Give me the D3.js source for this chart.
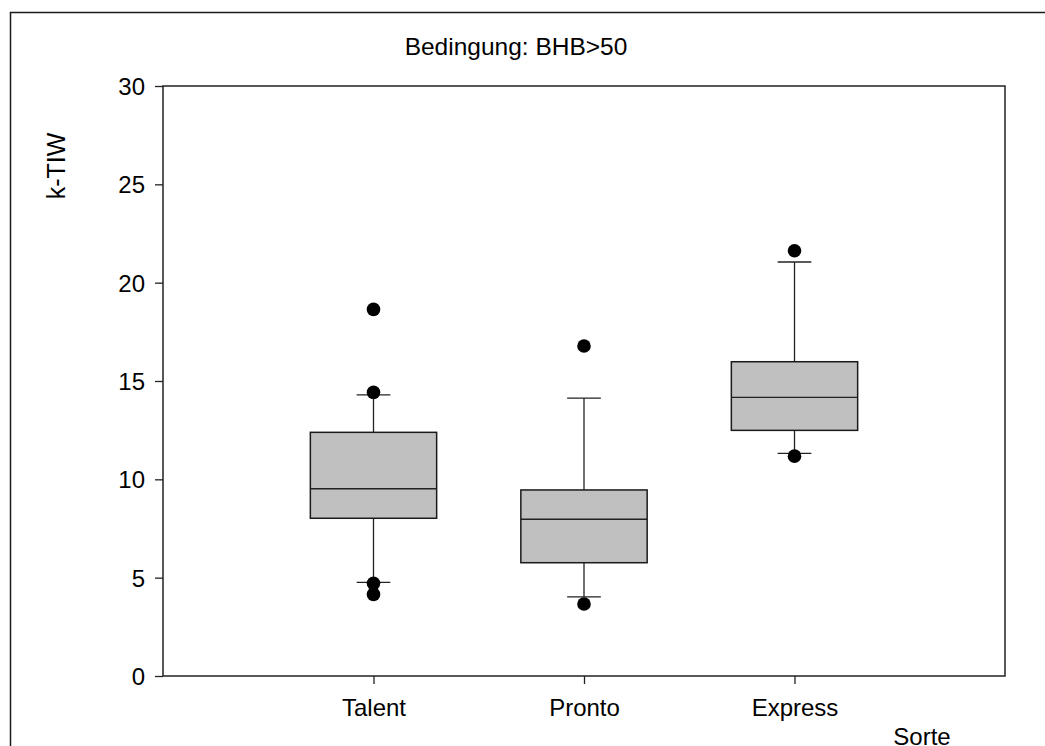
<!DOCTYPE html>
<html>
<head>
<meta charset="utf-8">
<script src="https://cdn.jsdelivr.net/npm/d3@7"></script>
<style>
  body { margin: 0; background: #fff; }
  svg text { font-family: "Liberation Sans", Arial, sans-serif; fill: #000; }
</style>
</head>
<body>
<div id="chart"></div>
<script>
// values
var categories = ["Talent", "Pronto", "Express"];
var q1 = [8.02, 5.76, 12.49];
var medians = [9.52, 7.97, 14.17];
var q3 = [12.39, 9.46, 15.98];
var whiskerLow = [4.76, 4.02, 11.32];
var whiskerHigh = [14.29, 14.13, 21.05];
var outliers = [[18.64, 14.42, 4.71, 4.15], [16.78, 3.66], [21.62, 11.18]];
var yTicks = [0, 5, 10, 15, 20, 25, 30];

var w = 1045, h = 746;
var marginLeft = 163, marginTop = 86, plotRight = 1005, plotBottom = 676;
var contentsWidth = plotRight - marginLeft, contentsHeight = plotBottom - marginTop;

var svg = d3.select("#chart")
  .append("svg")
  .attr("width", w)
  .attr("height", h);

// outer frame (only left and top visible)
svg.append("path")
  .attr("d", "M10.5," + h + "V12.5H" + w)
  .attr("fill", "none")
  .attr("stroke", "#1a1a1a")
  .attr("stroke-width", 1.5);

var chartG = svg.append("g")
  .attr("transform", "translate(" + marginLeft + "," + marginTop + ")");

var xScale = d3.scaleLinear().domain([0, 4]).range([0, contentsWidth]);
var yScale = d3.scaleLinear().domain([0, 30]).range([contentsHeight, 0]);

var boxHalf = 0.3, capHalf = 0.08;

// plot frame
chartG.append("rect")
  .attr("x", 0).attr("y", 0)
  .attr("width", contentsWidth).attr("height", contentsHeight)
  .attr("fill", "none")
  .attr("stroke", "#222")
  .attr("stroke-width", 1.5);

var boxes = chartG.selectAll("g.box")
  .data(categories)
  .enter().append("g")
  .attr("class", "box");

// whiskers
boxes.append("line")
  .attr("x1", function(d, i) { return xScale(i + 1); })
  .attr("x2", function(d, i) { return xScale(i + 1); })
  .attr("y1", function(d, i) { return yScale(whiskerLow[i]); })
  .attr("y2", function(d, i) { return yScale(whiskerHigh[i]); })
  .attr("stroke", "#222").attr("stroke-width", 1.3);

boxes.append("line")
  .attr("x1", function(d, i) { return xScale(i + 1 - capHalf); })
  .attr("x2", function(d, i) { return xScale(i + 1 + capHalf); })
  .attr("y1", function(d, i) { return yScale(whiskerHigh[i]); })
  .attr("y2", function(d, i) { return yScale(whiskerHigh[i]); })
  .attr("stroke", "#222").attr("stroke-width", 1.3);

boxes.append("line")
  .attr("x1", function(d, i) { return xScale(i + 1 - capHalf); })
  .attr("x2", function(d, i) { return xScale(i + 1 + capHalf); })
  .attr("y1", function(d, i) { return yScale(whiskerLow[i]); })
  .attr("y2", function(d, i) { return yScale(whiskerLow[i]); })
  .attr("stroke", "#222").attr("stroke-width", 1.3);

// box
boxes.append("rect")
  .attr("x", function(d, i) { return xScale(i + 1 - boxHalf); })
  .attr("width", function(d, i) { return xScale(i + 1 + boxHalf) - xScale(i + 1 - boxHalf); })
  .attr("y", function(d, i) { return yScale(q3[i]); })
  .attr("height", function(d, i) { return yScale(q1[i]) - yScale(q3[i]); })
  .attr("fill", "#c0c0c0")
  .attr("stroke", "#1a1a1a")
  .attr("stroke-width", 1.5);

boxes.append("line")
  .attr("x1", function(d, i) { return xScale(i + 1 - boxHalf); })
  .attr("x2", function(d, i) { return xScale(i + 1 + boxHalf); })
  .attr("y1", function(d, i) { return yScale(medians[i]); })
  .attr("y2", function(d, i) { return yScale(medians[i]); })
  .attr("stroke", "#222").attr("stroke-width", 1.3);

// outliers
boxes.each(function(d, i) {
  d3.select(this).selectAll("circle")
    .data(outliers[i])
    .enter().append("circle")
    .attr("cx", xScale(i + 1))
    .attr("cy", function(v) { return yScale(v); })
    .attr("r", 6.8)
    .attr("fill", "#000");
});

// axes
var yAxis = chartG.append("g")
  .call(d3.axisLeft(yScale).tickValues(yTicks).tickSize(8).tickPadding(10).tickFormat(d3.format("d")));
yAxis.select(".domain").remove();
yAxis.selectAll("line").attr("stroke", "#222").attr("stroke-width", 1.3);
yAxis.selectAll("text")
  .style("font-size", "24px")
  .attr("font-family", null)
  .attr("dy", "0.36em");

var xAxis = chartG.append("g")
  .attr("transform", "translate(0," + contentsHeight + ")")
  .call(d3.axisBottom(xScale).tickValues([1, 2, 3]).tickSize(8).tickPadding(15)
    .tickFormat(function(v) { return categories[v - 1]; }));
xAxis.select(".domain").remove();
xAxis.selectAll("line").attr("stroke", "#222").attr("stroke-width", 1.3);
xAxis.selectAll("text")
  .style("font-size", "24px")
  .attr("font-family", null);

// titles
svg.append("text")
  .attr("x", 516).attr("y", 55)
  .attr("text-anchor", "middle")
  .style("font-size", "24.5px")
  .text("Bedingung: BHB>50");

svg.append("text")
  .attr("transform", "translate(65,166) rotate(-90)")
  .attr("text-anchor", "middle")
  .style("font-size", "25px")
  .text("k-TIW");

svg.append("text")
  .attr("x", 922).attr("y", 745)
  .attr("text-anchor", "middle")
  .style("font-size", "24px")
  .text("Sorte");
</script>
</body>
</html>
